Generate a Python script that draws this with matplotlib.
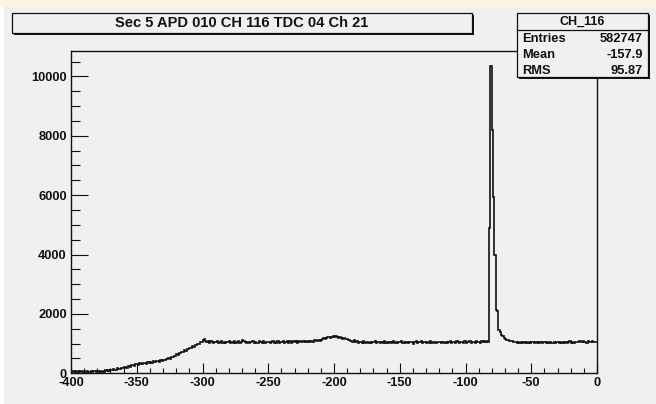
import numpy as np
import matplotlib
matplotlib.use("Agg")
import matplotlib.pyplot as plt
from matplotlib.patches import Rectangle
from matplotlib.lines import Line2D
from matplotlib.ticker import MultipleLocator

# TDC time spectrum, 1 unit bins from -400 to 0
X_MIN, X_MAX = -400, 0

# -400 .. -291 : slow rise up to the plateau
ramp_counts = [
    30, 62, 40, 75, 35, 66, 44, 80, 52, 38,
    70, 42, 82, 55, 40, 74, 36, 64, 88, 50,
    72, 46, 84, 60, 90, 58, 98, 70, 110, 92,
    124, 96, 140, 118, 108, 165, 150, 138, 190, 172,
    214, 196, 188, 250, 236, 220, 285, 266, 245, 312,
    326, 290, 340, 318, 306, 362, 344, 322, 378, 352,
    392, 358, 404, 380, 368, 422, 410, 392, 450, 428,
    462, 448, 476, 470, 516, 498, 552, 540, 592, 578,
    635, 622, 684, 668, 726, 716, 778, 760, 822, 808,
    866, 852, 914, 900, 954, 944, 998, 990, 1046, 1060,
    1128, 1142, 1090, 1060, 1075, 1030, 1082, 1045, 1022, 1070,
]

# -290 .. -84 : flat part with the small bump near -200
plateau_counts = [
    1048, 1085, 1020, 1062, 1090, 1030, 1058, 1012, 1066, 1040,
    1078, 1025, 1060, 1035, 1072, 1018, 1064, 1095, 1030, 1055,
    1118, 1096, 1040, 1022, 1070, 1015, 1062, 1038, 1084, 1026,
    1066, 1030, 1012, 1075, 1050, 1028, 1082, 1020, 1060, 1042,
    1070, 1024, 1052, 1090, 1018, 1064, 1034, 1076, 1008, 1058,
    1040, 1080, 1026, 1066, 1098, 1036, 1072, 1030, 1060, 1086,
    1044, 1080, 1032, 1092, 1058, 1070, 1104, 1046, 1086, 1062,
    1090, 1052, 1102, 1070, 1060, 1112, 1080, 1096, 1122, 1100,
    1130, 1160, 1182, 1170, 1196, 1210, 1230, 1196, 1222, 1240,
    1218, 1246, 1206, 1190, 1228, 1180, 1168, 1196, 1150, 1140,
    1146, 1118, 1104, 1090, 1058, 1125, 1048, 1082, 1030, 1066,
    1058, 1028, 1074, 1018, 1050, 1066, 1030, 1070, 1022, 1056,
    1040, 1078, 1016, 1054, 1070, 1026, 1062, 1036, 1074, 1020,
    1060, 1034, 1068, 1024, 1052, 1084, 1030, 1056, 1010, 1062,
    1046, 1074, 1022, 1058, 1032, 1070, 1012, 1054, 1038, 1066,
    1000, 1040, 1076, 1026, 1060, 1044, 1088, 1030, 1066, 1048,
    1020, 1062, 1036, 1074, 1024, 1052, 1068, 1030, 1062, 1040,
    1056, 1022, 1038, 1070, 1010, 1060, 1030, 1046, 1072, 1032,
    1050, 1066, 1026, 1076, 1040, 1022, 1068, 1052, 1034, 1072,
    1030, 1062, 1044, 1080, 1024, 1056, 1068, 1036, 1074, 1050,
    1062, 1030, 1086, 1052, 1072, 1040, 1090,
]

# -83 .. -66 : prompt peak
peak_counts = [
    1066, 4900, 10340, 8190, 5950, 3980, 2130, 2110, 1460, 1380,
    1300, 1240, 1190, 1160, 1130, 1110, 1095, 1080,
]

# -65 .. -1
tail_counts = [
    1082, 1060, 1040, 1064, 1022, 1056, 1030, 1050, 1010, 1046,
    1026, 1058, 1018, 1052, 1004, 1040, 1062, 1022, 1050, 1014,
    1056, 1030, 1066, 1018, 1044, 1060, 1008, 1052, 1024, 1062,
    1036, 1020, 1056, 1012, 1064, 1040, 1024, 1058, 1016, 1050,
    1030, 1068, 1020, 1052, 1076, 1032, 1058, 1026, 1064, 1040,
    1054, 1080, 1098, 1060, 1088, 1044, 1070, 1036, 1082, 1052,
    1046, 1074, 1040, 1066, 1054,
]

hist_name = "CH_116"
hist_title = "Sec 5 APD 010 CH 116 TDC 04 Ch 21"
stat_names = ["Entries", "Mean", "RMS"]
stat_values = ["582747", "-157.9", "95.87"]

BG = "#f0f0f0"
INK = "#111111"
W, H = 656, 404

plt.rcParams["font.family"] = ["Liberation Sans", "DejaVu Sans"]
plt.rcParams["font.weight"] = "bold"
plt.rcParams["axes.unicode_minus"] = False


def fx(x):
    return x / W


def fy(y):
    return 1 - y / H


counts = np.array(ramp_counts + plateau_counts + peak_counts + tail_counts)
edges = np.arange(X_MIN, X_MAX + 1, 1)

fig = plt.figure(figsize=(W / 100, H / 100), dpi=100, facecolor=BG)

# page strips around the canvas
fig.add_artist(Rectangle((0, fy(7)), 1, 7 / H, transform=fig.transFigure,
                         fc="#fdf3e2", ec="none", zorder=-5))
fig.add_artist(Rectangle((0, 0), fx(4), fy(7), transform=fig.transFigure,
                         fc="white", ec="none", zorder=-5))

ax = fig.add_axes([fx(71), fy(373.3), fx(597) - fx(71), (373.3 - 51) / H])
ax.set_facecolor(BG)
ax.stairs(counts, edges, baseline=None, color=INK, lw=1.2)

ax.set_xlim(X_MIN, X_MAX)
ax.set_ylim(0, 1.05 * counts.max())
ax.xaxis.set_major_locator(MultipleLocator(50))
ax.xaxis.set_minor_locator(MultipleLocator(10))
ax.yaxis.set_major_locator(MultipleLocator(2000))
ax.yaxis.set_minor_locator(MultipleLocator(500))
ax.tick_params(axis="both", which="both", direction="in", color=INK,
               width=0.8, labelsize=9.3, labelcolor=INK)
ax.tick_params(axis="x", which="major", length=7, pad=2.5)
ax.tick_params(axis="x", which="minor", length=3.3)
ax.tick_params(axis="y", which="major", length=12, pad=3)
ax.tick_params(axis="y", which="minor", length=6.3)
for s in ax.spines.values():
    s.set_linewidth(1.0)
    s.set_color(INK)


def framed_box(x0, y0, x1, y1):
    # box with a drop shadow on the right and bottom
    fig.add_artist(Rectangle((fx(x0 + 2), fy(y1 + 2)), (x1 - x0) / W, (y1 - y0) / H,
                             transform=fig.transFigure, fc=INK, ec="none", zorder=3))
    fig.add_artist(Rectangle((fx(x0), fy(y1)), (x1 - x0) / W, (y1 - y0) / H,
                             transform=fig.transFigure, fc=BG, ec=INK, lw=0.9, zorder=4))


# title pave
framed_box(12, 13.3, 472, 32.5)
fig.text(fx(242), fy(23.3), hist_title, ha="center", va="center",
         fontsize=10.5, color=INK, zorder=5)

# statistics box
framed_box(516.7, 13.3, 647.5, 76.5)
fig.add_artist(Line2D([fx(516.7), fx(647.5)], [fy(30), fy(30)],
                      transform=fig.transFigure, color=INK, lw=0.9, zorder=5))
fig.text(fx(582), fy(21.5), hist_name, ha="center", va="center",
         fontsize=9, color=INK, zorder=5)
for i, (name, val) in enumerate(zip(stat_names, stat_values)):
    yy = 38.5 + i * 16
    fig.text(fx(522), fy(yy), name, ha="left", va="center",
             fontsize=9.3, color=INK, zorder=5)
    fig.text(fx(643), fy(yy), val, ha="right", va="center",
             fontsize=9.3, color=INK, zorder=5)

fig.savefig("out.png", dpi=100, facecolor=BG)
